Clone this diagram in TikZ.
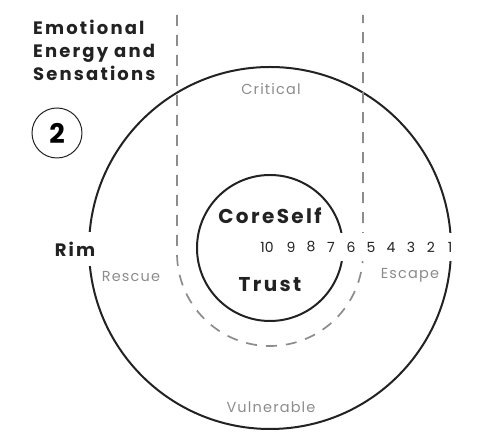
\documentclass[tikz,border=0pt]{standalone}
\usepackage{fontspec}
\setmainfont{Poppins}
\newfontfamily\spaced[LetterSpace=8]{Poppins}
\newfontfamily\wide[LetterSpace=12]{Poppins}
\usetikzlibrary{positioning}
\definecolor{ink}{HTML}{222222}
\definecolor{soft}{HTML}{8C8C8C}
\begin{document}
\begin{tikzpicture}[x=1pt,y=1pt]
\useasboundingbox (-270,-195) rectangle (218,248);
%the rings and the dashed band
\draw[ink, line width=2pt] (0,0) circle (181pt);
\draw[ink, line width=2pt] (0,0) circle (73pt);
\draw[soft, line width=1.7pt, dash pattern=on 11pt off 9pt] (-93,233) -- (-93,-5) arc (180:360:93pt) -- (93,233);
%the title and the number
\node[ink, anchor=north west, align=left, inner sep=0pt, font=\wide\bfseries\fontsize{18}{23}\selectfont] (title) at (-237,228) {Emotional\\Energy and\\Sensations};
\node[circle, draw=ink, line width=1pt, minimum size=50pt, inner sep=0pt, font=\bfseries\fontsize{27}{27}\selectfont] (two) at (-213,115) {2};
%the words in the rings
\node[ink, font=\wide\bfseries\fontsize{20}{20}\selectfont] (core) at (0,32) {CoreSelf};
\node[ink, font=\wide\bfseries\fontsize{20}{20}\selectfont, below=46pt of core] (trust) {Trust};
\node[ink, fill=white, minimum height=34pt, font=\wide\bfseries\fontsize{18}{18}\selectfont] (rim) at (-195,-1) {Rim};
\node[soft, font=\spaced\fontsize{14.5}{14.5}\selectfont] (critical) at (1,159) {Critical};
\node[soft, font=\spaced\fontsize{14.5}{14.5}\selectfont] (vulnerable) at (1,-159) {Vulnerable};
\node[soft, font=\spaced\fontsize{14.5}{14.5}\selectfont] (rescue) at (-139,-29) {Rescue};
\node[soft, font=\spaced\fontsize{14.5}{14.5}\selectfont] (escape) at (140,-27) {Escape};
%the numbers along the line
\node[ink, fill=white, inner sep=0pt, minimum width=20pt, minimum height=28pt, font=\fontsize{14}{14}\selectfont] (n10) at (-3,1) {10};
\node[ink, fill=white, inner sep=0pt, minimum width=20pt, minimum height=28pt, font=\fontsize{14}{14}\selectfont, on grid, right=24pt of n10] (n9) {9};
\node[ink, fill=white, inner sep=0pt, minimum width=20pt, minimum height=28pt, font=\fontsize{14}{14}\selectfont, on grid, right=20pt of n9] (n8) {8};
\node[ink, fill=white, inner sep=0pt, minimum width=20pt, minimum height=28pt, font=\fontsize{14}{14}\selectfont, on grid, right=20pt of n8] (n7) {7};
\node[ink, fill=white, inner sep=0pt, minimum width=20pt, minimum height=28pt, font=\fontsize{14}{14}\selectfont, on grid, right=20pt of n7] (n6) {6};
\node[ink, fill=white, inner sep=0pt, minimum width=20pt, minimum height=28pt, font=\fontsize{14}{14}\selectfont, on grid, right=20pt of n6] (n5) {5};
\node[ink, fill=white, inner sep=0pt, minimum width=20pt, minimum height=28pt, font=\fontsize{14}{14}\selectfont, on grid, right=20pt of n5] (n4) {4};
\node[ink, fill=white, inner sep=0pt, minimum width=20pt, minimum height=28pt, font=\fontsize{14}{14}\selectfont, on grid, right=20pt of n4] (n3) {3};
\node[ink, fill=white, inner sep=0pt, minimum width=20pt, minimum height=28pt, font=\fontsize{14}{14}\selectfont, on grid, right=20pt of n3] (n2) {2};
\node[ink, fill=white, inner sep=0pt, minimum width=18pt, minimum height=28pt, font=\fontsize{14}{14}\selectfont, on grid, right=19pt of n2] (n1) {1};
\end{tikzpicture}
\end{document}
